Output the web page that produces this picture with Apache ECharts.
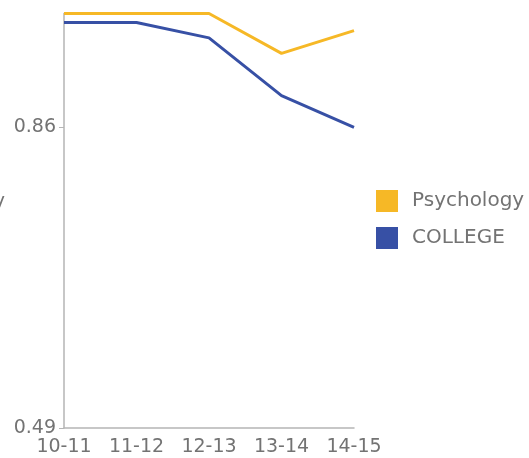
<!DOCTYPE html>
<html>
<head>
<meta charset="utf-8">
<style>
  html, body { margin: 0; padding: 0; background: #fff; }
  #chart { width: 529px; height: 458px; }
</style>
<script src="https://cdn.jsdelivr.net/npm/echarts@6/dist/echarts.min.js"></script>
</head>
<body>
<div id="chart"></div>
<script>
// School years along the x axis
const years = ['10-11', '11-12', '12-13', '13-14', '14-15'];

// Yearly rates for each series
const psychology = [1.0, 1.0, 1.0, 0.951, 0.979];
const college = [0.989, 0.989, 0.970, 0.899, 0.86];

// Labelled ticks on the value axis
const yTicks = [0.49, 0.86];

const font = '"DejaVu Sans", Verdana, sans-serif';
const grey = '#737373';

const chart = echarts.init(document.getElementById('chart'));
chart.setOption({
  animation: false,
  grid: { left: 64, right: 175, top: 13.5, bottom: 30, containLabel: false },
  legend: {
    orient: 'vertical',
    left: 371,
    top: 185,
    itemWidth: 22,
    itemHeight: 22,
    itemGap: 15,
    icon: 'rect',
    textStyle: { color: grey, fontSize: 20, fontFamily: font, padding: [0, 0, 0, 9] },
    data: ['Psychology', 'COLLEGE']
  },
  graphic: [{
    type: 'text',
    silent: true,
    style: {
      x: 5, y: 193,
      text: 'y',
      fill: grey,
      font: '19px ' + font,
      align: 'right',
      verticalAlign: 'alphabetic'
    }
  }],
  xAxis: {
    type: 'category',
    data: years,
    boundaryGap: false,
    axisLine: { lineStyle: { color: '#b5b5b5', width: 1.5 } },
    axisTick: { show: false },
    axisLabel: { color: grey, fontSize: 19, fontFamily: font, margin: 10, interval: 0 },
    splitLine: { show: false }
  },
  yAxis: {
    type: 'value',
    min: 0.49,
    max: 1.0,
    axisLine: { show: true, lineStyle: { color: '#b5b5b5', width: 1.5 } },
    axisTick: { show: true, length: 5, customValues: yTicks, lineStyle: { color: '#b5b5b5' } },
    axisLabel: {
      color: grey, fontSize: 19, fontFamily: font, margin: 8,
      customValues: yTicks,
      formatter: v => v.toFixed(2)
    },
    splitLine: { show: false }
  },
  series: [
    {
      name: 'Psychology',
      type: 'line',
      data: psychology,
      symbol: 'none',
      color: '#F6B826',
      lineStyle: { width: 3 },
      clip: false
    },
    {
      name: 'COLLEGE',
      type: 'line',
      data: college,
      symbol: 'none',
      color: '#3750A5',
      lineStyle: { width: 3 },
      clip: false
    }
  ]
});
</script>
</body>
</html>
